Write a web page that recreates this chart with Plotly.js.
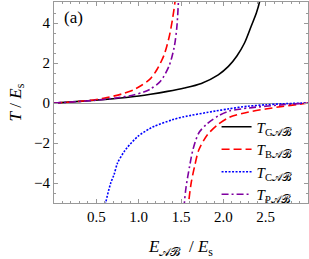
<!DOCTYPE html>
<html><head><meta charset="utf-8">
<script src="https://cdn.plot.ly/plotly-3.0.1.min.js"></script>
<style>html,body{margin:0;padding:0;background:#fff}</style>
</head><body><div id="c" style="width:309px;height:259px"></div>
<script>
// T_G (black, solid)
const gE = [0, 0.3, 0.6, 0.9, 1.14, 1.34, 1.54, 1.74, 1.94, 2.06, 2.16, 2.25, 2.33, 2.39, 2.43, 2.47];
const gT = [0, 0.08, 0.18, 0.30, 0.44, 0.58, 0.75, 0.98, 1.41, 1.83, 2.35, 3.0, 3.85, 4.5, 5.1, 6.3];
// T_B (red, dashed) positive and negative branches
const bE1 = [0, 0.2, 0.4, 0.6, 0.8, 0.94, 1.04, 1.14, 1.22, 1.30, 1.36, 1.40, 1.43, 1.45];
const bT1 = [0, 0.05, 0.12, 0.25, 0.45, 0.66, 0.9, 1.22, 1.7, 2.4, 3.3, 4.2, 5.1, 6.3];
const bE2 = [1.575, 1.59, 1.62, 1.66, 1.71, 1.81, 1.93, 2.07, 2.3, 2.5, 2.7, 2.9, 3.0];
const bT2 = [-6.0, -5.0, -4.0, -3.18, -2.35, -1.6, -1.1, -0.72, -0.45, -0.3, -0.17, -0.06, 0];
// T_C (blue, dotted)
const cE = [0.59, 0.61, 0.67, 0.71, 0.75, 0.83, 0.87, 0.99, 1.13, 1.19, 1.39, 1.52, 1.91, 2.07, 2.29, 2.5, 2.69, 3.0];
const cT = [-5.6, -5.0, -4.0, -3.57, -3.0, -2.42, -2.2, -1.67, -1.28, -1.15, -0.85, -0.7, -0.4, -0.29, -0.16, -0.09, -0.04, 0];
// T_P (purple, dash-dot)
const pE1 = [0, 0.25, 0.5, 0.75, 0.94, 1.06, 1.14, 1.26, 1.36, 1.42, 1.45, 1.47, 1.48];
const pT1 = [0, 0.06, 0.14, 0.26, 0.4, 0.55, 0.7, 1.1, 1.86, 2.8, 3.75, 5.1, 6.3];
const pE2 = [1.53, 1.54, 1.56, 1.60, 1.64, 1.71, 1.81, 1.95, 2.07, 2.3, 2.5, 2.7, 2.9, 3.0];
const pT2 = [-6.0, -5.0, -4.2, -3.2, -2.35, -1.5, -1.03, -0.62, -0.4, -0.25, -0.16, -0.09, -0.03, 0];

const xTicks = [0.5, 1.0, 1.5, 2.0, 2.5];
const xTickText = ['0.5', '1.0', '1.5', '2.0', '2.5'];
const yTicks = [-4, -2, 0, 2, 4];
const yTickText = ['\u22124', '\u22122', '0', '2', '4'];

const names = ['<i>T</i><sub>G𝒜ℬ</sub>', '<i>T</i><sub>B𝒜ℬ</sub>', '<i>T</i><sub>C𝒜ℬ</sub>', '<i>T</i><sub>P𝒜ℬ</sub>'];
const RED = '#ff0000', BLUE = '#0000ff', PURP = '#7f00a0', BLK = '#000000';
const sm = 0.8;
const traces = [
  {x: gE, y: gT, mode: 'lines', name: names[0], line: {color: BLK, width: 1.6, shape: 'spline', smoothing: sm}},
  {x: bE1, y: bT1, mode: 'lines', name: names[1], legendgroup: 'b', line: {color: RED, width: 1.6, dash: '8px,4px', shape: 'spline', smoothing: sm}},
  {x: bE2, y: bT2, mode: 'lines', showlegend: false, legendgroup: 'b', line: {color: RED, width: 1.6, dash: '8px,4px', shape: 'spline', smoothing: sm}},
  {x: cE, y: cT, mode: 'lines', name: names[2], line: {color: BLUE, width: 1.6, dash: '2px,1.5px', shape: 'spline', smoothing: sm}},
  {x: pE1, y: pT1, mode: 'lines', name: names[3], legendgroup: 'p', line: {color: PURP, width: 1.6, dash: '7px,3px,2px,3px', shape: 'spline', smoothing: sm}},
  {x: pE2, y: pT2, mode: 'lines', showlegend: false, legendgroup: 'p', line: {color: PURP, width: 1.6, dash: '7px,3px,2px,3px', shape: 'spline', smoothing: sm}}
];
const F = 'Liberation Serif, Times New Roman, serif';
const axisCommon = {
  showline: true, linecolor: '#999', linewidth: 1, mirror: 'ticks',
  ticks: 'inside', ticklen: 4, tickcolor: '#999', tickwidth: 1,
  showgrid: false, tickfont: {family: F, size: 15, color: '#000'}
};
const layout = {
  width: 309, height: 259,
  margin: {l: 54, r: 1, t: 2, b: 56},
  paper_bgcolor: '#fff', plot_bgcolor: '#fff',
  font: {family: F, color: '#000'},
  showlegend: true,
  legend: {x: 0.64, y: 0.46, xanchor: 'left', yanchor: 'top', bgcolor: 'rgba(0,0,0,0)',
    font: {family: F, size: 15}, tracegroupgap: 0, itemwidth: 30},
  xaxis: Object.assign({}, axisCommon, {
    range: [0, 3.0], tickmode: 'array', tickvals: xTicks, ticktext: xTickText,
    zeroline: false, automargin: true,
    minor: {dtick: 0.1, tick0: 0, ticks: 'inside', ticklen: 2, tickcolor: '#999'},
    title: {text: '<i>E</i><sub>𝒜ℬ</sub>  / <i>E</i><sub>s</sub>', font: {family: F, size: 17}, standoff: 20}
  }),
  yaxis: Object.assign({}, axisCommon, {
    range: [-5, 5.05], tickmode: 'array', tickvals: yTicks, ticktext: yTickText,
    zeroline: true, zerolinecolor: '#999', zerolinewidth: 1,
    minor: {dtick: 0.5, tick0: 0, ticks: 'inside', ticklen: 2, tickcolor: '#999'},
    title: {text: '<i>T</i> / <i>E</i><sub>s</sub>', font: {family: F, size: 17}, standoff: 8}
  }),
  annotations: [{xref: 'paper', yref: 'paper', x: 0.03, y: 0.925, xanchor: 'left', yanchor: 'middle',
    text: '(a)', showarrow: false, font: {family: F, size: 17, color: '#000'}}]
};
Plotly.newPlot('c', traces, layout, {staticPlot: true, displayModeBar: false});
</script></body></html>
